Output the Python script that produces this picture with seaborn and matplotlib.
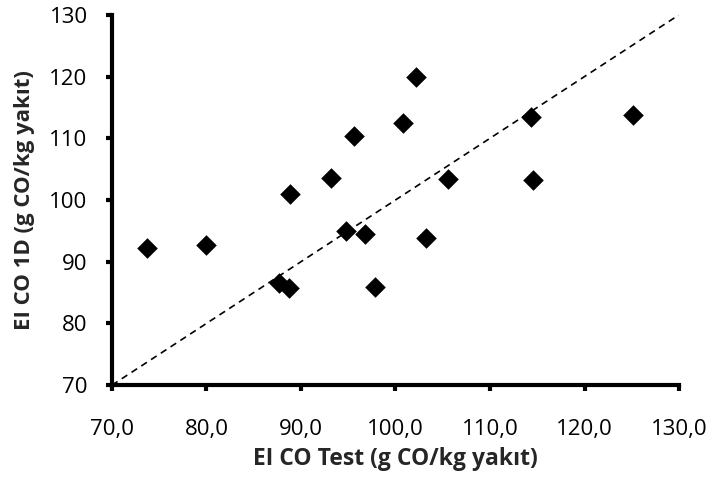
import matplotlib
matplotlib.use("Agg")
import matplotlib.pyplot as plt
import seaborn as sns
import pandas as pd
from matplotlib.ticker import FuncFormatter

# EI CO values: measured (test) vs. 1D model prediction, g CO / kg fuel
ei_co_test = [73.7, 79.9, 87.7, 88.7, 88.8, 93.2, 94.8, 95.6, 96.8, 97.8,
              100.8, 102.2, 103.2, 105.6, 114.3, 114.6, 125.1]
ei_co_1d = [92.2, 92.7, 86.6, 85.8, 100.9, 103.5, 94.9, 110.4, 94.5, 85.9,
            112.4, 120.0, 93.9, 103.4, 113.4, 103.2, 113.7]

x_ticks = [70, 80, 90, 100, 110, 120, 130]
y_ticks = [70, 80, 90, 100, 110, 120, 130]
parity = [70, 130]

sns.set_theme(style="white")
plt.rcParams["font.family"] = ["Open Sans", "DejaVu Sans"]

fig = plt.figure(figsize=(7.11, 4.79), dpi=100)
ax = fig.add_axes([0.1575, 0.196, 0.7975, 0.773])

df = pd.DataFrame({"test": ei_co_test, "model": ei_co_1d})

# y = x reference line
ax.plot(parity, parity, color="black", linestyle=(0, (4, 3)), linewidth=1.2, zorder=1)

sns.scatterplot(data=df, x="test", y="model", marker="D", s=110,
                color="black", edgecolor="black", linewidth=0, ax=ax, zorder=3,
                clip_on=False)

ax.set_xlim(70, 130)
ax.set_ylim(70, 130)
ax.set_xticks(x_ticks)
ax.set_yticks(y_ticks)
ax.xaxis.set_major_formatter(FuncFormatter(lambda v, p: f"{v:.1f}".replace(".", ",")))
ax.yaxis.set_major_formatter(FuncFormatter(lambda v, p: f"{v:.0f}"))

for side in ["top", "right"]:
    ax.spines[side].set_visible(False)
for side in ["left", "bottom"]:
    ax.spines[side].set_linewidth(3)
    ax.spines[side].set_color("black")

ax.tick_params(axis="both", direction="out", length=4.5, width=3, color="black",
               labelsize=16, labelcolor="black")
ax.tick_params(axis="x", bottom=True, pad=20)
ax.tick_params(axis="y", left=True, pad=13)

ax.set_xlabel("EI CO Test (g CO/kg yakıt)", fontsize=16.5, fontweight="bold")
ax.set_ylabel("EI CO 1D (g CO/kg yakıt)", fontsize=16, fontweight="bold")
ax.xaxis.set_label_coords(0.499, -0.168)
ax.yaxis.set_label_coords(-0.135, 0.5)

fig.savefig("out.png", dpi=100, facecolor="white")
